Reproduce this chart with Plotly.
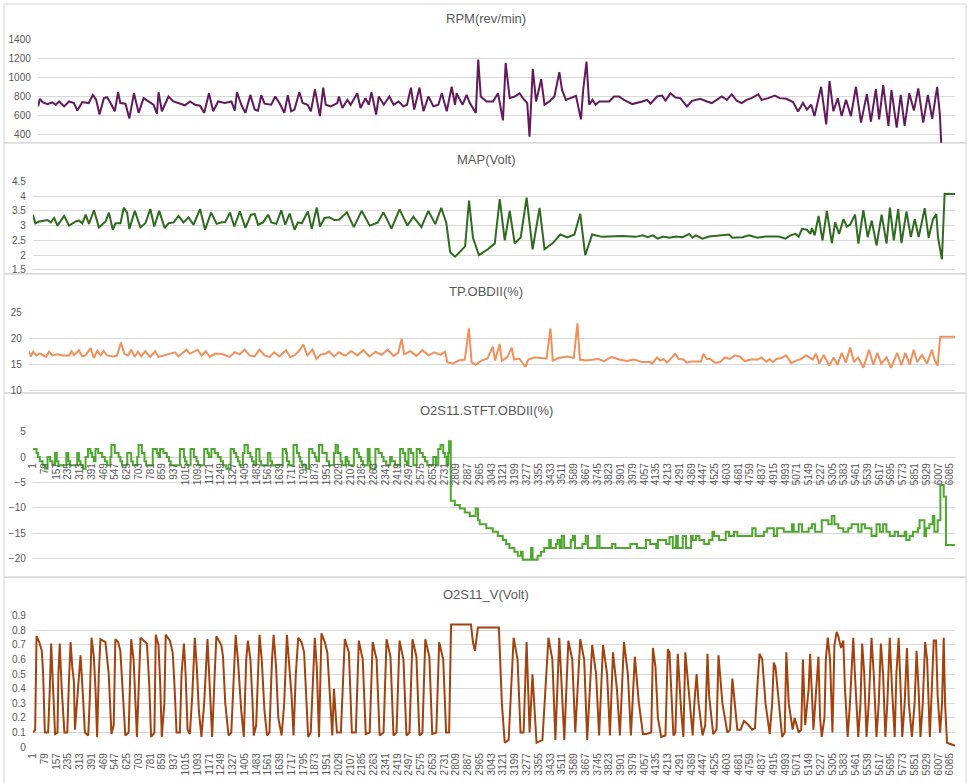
import plotly.graph_objects as go

# ---------------- data (category index, value) ----------------
N_CAT = 6118

rpm_idx = [3,14,32,65,98,120,143,176,209,242,264,297,340,368,390,412,441,463,492,514,536,551,585,611,642,673,706,739,772,795,806,828,872,905,938,982,1016,1049,1082,1111,1142,1170,1203,1248,1292,1314,1329,1358,1385,1418,1447,1469,1491,1513,1557,1584,1612,1645,1668,1690,1712,1745,1767,1800,1822,1849,1882,1904,1921,1954,1998,2009,2032,2065,2087,2131,2153,2186,2208,2226,2257,2275,2308,2345,2374,2407,2440,2463,2489,2511,2546,2573,2606,2639,2672,2695,2728,2761,2783,2794,2816,2834,2860,2882,2922,2938,2955,2993,3037,3070,3103,3121,3148,3181,3214,3236,3265,3280,3302,3324,3358,3380,3413,3446,3479,3497,3523,3557,3590,3623,3638,3660,3678,3700,3722,3744,3811,3844,3877,3910,3965,4032,4065,4087,4131,4165,4187,4220,4253,4286,4330,4364,4419,4463,4496,4562,4596,4629,4662,4695,4728,4761,4806,4828,4872,4916,4949,4993,5038,5071,5104,5130,5159,5181,5225,5259,5281,5307,5336,5362,5391,5424,5457,5491,5530,5557,5590,5612,5639,5674,5694,5729,5756,5782,5813,5844,5873,5906,5937,5966,5999,6017,6035,6118]
rpm_val = [693,773,738,717,735,710,745,693,745,728,648,738,728,814,762,607,780,790,710,641,842,728,721,566,831,624,780,745,710,617,842,641,797,745,728,704,745,710,700,624,831,641,745,728,745,648,842,710,624,814,659,648,811,721,710,797,728,624,811,641,659,842,728,710,641,873,590,890,710,693,728,797,676,762,710,831,676,780,710,842,607,797,710,797,710,745,693,710,890,659,890,641,797,693,710,831,641,900,710,831,762,710,814,728,624,1187,797,745,745,831,545,1152,780,797,831,780,728,372,1090,745,980,710,745,797,1055,866,762,780,804,555,866,1166,710,762,710,745,745,797,797,762,717,745,762,721,797,807,752,831,786,780,693,752,773,745,728,797,762,821,752,728,762,780,821,762,780,807,780,773,738,638,728,659,710,590,900,503,959,641,780,590,762,590,900,521,821,531,876,555,917,486,866,469,814,486,831,648,883,521,814,562,900,607,0,0]

map_idx = [1,17,43,76,98,120,142,164,208,241,285,307,329,351,373,406,439,483,505,531,549,582,604,626,641,677,714,747,780,806,839,875,901,934,967,1000,1033,1066,1110,1143,1183,1220,1253,1275,1308,1337,1374,1411,1447,1473,1495,1528,1561,1583,1616,1649,1675,1704,1737,1759,1785,1825,1851,1884,1906,1935,1968,2001,2031,2084,2130,2182,2235,2288,2327,2380,2433,2485,2525,2578,2624,2670,2710,2743,2769,2802,2841,2868,2894,2920,2960,3019,3065,3098,3131,3164,3197,3237,3276,3316,3362,3395,3448,3500,3547,3593,3632,3665,3711,3777,3909,4000,4047,4080,4113,4146,4179,4223,4267,4311,4355,4377,4399,4443,4487,4553,4619,4641,4707,4751,4806,4861,4949,4993,5026,5059,5081,5103,5136,5158,5169,5187,5213,5239,5268,5301,5323,5349,5378,5400,5422,5455,5477,5510,5539,5565,5598,5631,5664,5686,5712,5741,5763,5796,5825,5851,5877,5917,5943,5972,5994,6005,6031,6049,6118]
map_val = [3.37,3.08,3.14,3.17,3.19,3.11,3.26,3.0,3.33,3.0,3.14,3.17,3.08,3.37,3.06,3.52,2.94,3.14,3.44,2.86,3.08,3.08,3.61,3.44,2.89,3.5,2.94,3.08,3.56,2.97,3.5,2.92,3.08,3.11,3.33,3.11,3.28,3.03,3.56,2.86,3.44,3.06,3.11,3.11,3.44,2.97,3.48,2.92,3.37,3.39,3.03,3.11,3.37,3.11,3.06,3.52,3.03,3.41,2.86,3.11,3.08,3.48,2.89,3.61,2.97,3.26,3.28,3.19,3.2,3.45,2.95,3.5,3.0,3.1,3.45,2.9,3.55,3.0,3.3,2.95,3.5,3.05,3.6,3.1,2.1,1.95,2.15,2.3,3.85,2.6,2.0,2.2,2.4,3.9,2.5,3.5,2.4,2.6,3.95,2.2,3.6,2.2,2.4,2.7,2.6,2.7,3.4,2.0,2.7,2.62,2.65,2.62,2.67,2.61,2.67,2.56,2.63,2.59,2.63,2.61,2.72,2.59,2.67,2.56,2.63,2.67,2.7,2.59,2.61,2.67,2.59,2.63,2.63,2.56,2.67,2.72,2.63,2.89,2.86,2.72,2.92,2.67,3.33,2.5,3.5,2.41,3.11,2.72,3.22,2.97,3.03,3.37,2.39,3.52,2.61,3.17,2.33,3.37,2.39,3.61,2.5,3.56,2.41,3.48,2.61,3.22,2.61,3.59,2.59,3.22,3.39,2.61,1.86,4.08,4.07]

tp_idx = [1,14,29,51,73,95,113,134,156,189,222,266,283,299,331,353,375,408,430,452,474,495,517,561,583,609,631,655,677,699,721,743,769,802,835,856,889,922,966,988,1010,1042,1064,1086,1115,1141,1169,1196,1228,1272,1305,1327,1360,1393,1425,1458,1491,1524,1557,1590,1622,1655,1699,1727,1754,1786,1813,1841,1874,1900,1929,1961,1983,2016,2050,2090,2130,2170,2210,2250,2290,2330,2370,2410,2440,2463,2480,2520,2560,2600,2640,2680,2720,2750,2765,2800,2840,2880,2907,2925,2950,2990,3030,3065,3080,3110,3125,3160,3190,3205,3240,3280,3300,3340,3420,3446,3461,3500,3560,3600,3624,3640,3680,3700,3760,3800,3850,3900,3950,4000,4051,4106,4117,4149,4171,4193,4215,4248,4270,4292,4325,4346,4379,4440,4456,4478,4500,4532,4565,4598,4631,4664,4696,4729,4773,4817,4839,4872,4893,4915,4937,4970,5003,5036,5068,5101,5134,5156,5178,5200,5222,5250,5287,5316,5342,5370,5397,5425,5451,5478,5513,5550,5578,5605,5631,5666,5696,5736,5764,5790,5819,5845,5867,5900,5933,5966,5981,6003,6020,6118]
tp_val = [17.6,16.6,17.5,16.8,17.2,16.8,16.5,17.5,16.8,17.0,16.8,16.8,17.6,16.8,17.8,16.6,16.8,18.2,16.3,17.7,16.8,17.6,16.8,16.6,16.8,19.3,17.1,16.8,17.9,16.5,17.5,16.6,17.6,16.5,17.6,16.5,16.8,17.1,17.4,16.6,17.2,17.9,17.1,17.4,17.9,16.8,17.6,16.5,17.1,17.1,16.8,16.5,17.4,17.0,17.9,16.8,16.6,17.9,16.8,16.5,17.4,16.6,17.8,16.5,16.8,17.7,18.9,16.8,17.9,16.1,17.0,17.1,17.6,16.6,17.4,16.7,17.6,16.8,17.8,16.6,17.5,16.9,17.9,16.7,17.3,20.0,17.0,17.6,16.7,17.8,16.8,17.4,16.9,17.5,15.5,15.2,15.8,16.0,22.0,15.5,15.0,15.8,16.2,18.5,15.8,19.0,15.8,16.4,18.3,16.0,16.2,14.6,16.0,16.4,16.2,22.0,15.8,16.3,16.6,16.3,23.0,16.0,15.8,15.9,16.1,15.7,16.5,16.0,15.7,16.0,15.5,15.5,15.2,16.4,15.8,16.1,15.4,16.4,17.1,16.1,16.0,15.4,15.6,15.6,17.1,16.1,16.1,15.4,15.5,16.4,16.1,16.8,16.6,15.7,16.0,16.0,16.4,15.6,16.1,15.5,16.1,16.3,16.8,15.3,15.8,16.1,16.8,16.4,16.0,17.1,15.2,16.9,14.8,16.4,15.0,17.3,15.4,18.3,15.5,16.4,14.4,17.9,15.0,17.3,15.2,16.4,14.4,17.3,14.9,17.3,15.0,17.9,15.5,16.9,15.2,17.9,16.1,14.8,20.4,20.4]

stft_idx = [3,25,34,47,65,82,98,115,131,148,159,170,223,236,247,295,306,317,333,350,366,383,394,405,416,434,460,478,493,515,522,544,570,581,592,627,653,664,693,702,724,741,752,796,823,834,845,867,889,904,915,976,1003,1009,1020,1047,1069,1086,1097,1137,1159,1168,1185,1207,1229,1247,1262,1284,1313,1335,1350,1361,1372,1394,1405,1427,1444,1455,1466,1482,1504,1515,1559,1576,1587,1658,1680,1686,1701,1730,1752,1767,1774,1785,1811,1833,1855,1871,1882,1899,1921,1950,1965,1998,2009,2024,2042,2053,2075,2086,2097,2130,2152,2163,2178,2191,2222,2235,2240,2273,2294,2316,2327,2345,2371,2382,2404,2437,2455,2470,2481,2492,2508,2525,2547,2569,2587,2602,2617,2657,2675,2690,2705,2723,2734,2745,2756,2762,2773,2800,2833,2866,2899,2938,2954,2965,3009,3052,3085,3118,3140,3162,3195,3217,3239,3250,3294,3305,3316,3349,3371,3393,3426,3437,3470,3481,3496,3509,3525,3569,3584,3597,3646,3668,3683,3745,3760,3843,3865,3964,4008,4068,4096,4136,4147,4202,4224,4246,4268,4279,4312,4334,4367,4378,4400,4422,4454,4487,4509,4520,4553,4597,4619,4652,4674,4773,4795,4850,4872,4916,4938,4982,5037,5048,5081,5103,5147,5169,5190,5234,5278,5300,5318,5344,5377,5410,5432,5476,5498,5520,5564,5597,5619,5641,5663,5685,5718,5740,5784,5795,5817,5839,5872,5883,5915,5926,5948,5970,5981,6003,6021,6043,6058,6118]
stft_val = [1.6,0.8,0,-0.8,-1.6,-2.3,0,-0.8,-1.6,0.8,-0.8,-1.6,0.8,-0.8,-1.6,0.8,-0.8,-1.6,-2.3,0,1.6,0.8,0,-0.8,1.6,0.8,0,-0.8,-1.6,0,2.4,0.8,0,-0.8,-1.6,0.8,-0.8,-1.6,0,2.4,0.8,-0.8,-1.6,1.6,0.8,0,1.6,0.8,0,-0.8,-1.6,1.6,0,-0.8,-1.6,1.6,0,-0.8,-1.6,1.6,0.8,0,1.6,0.8,0,-0.8,-1.6,-2.3,1.6,0.8,0,-0.8,-1.6,0.8,2.4,0.8,0,-0.8,-1.6,1.6,-0.8,-1.6,0.8,-0.8,-1.6,1.6,0.8,-0.8,-1.6,2.4,0.8,0,-0.8,-1.6,-2.3,1.6,0.8,0,-0.8,2.4,0.8,-0.8,-1.6,0.8,2.4,0.8,-0.8,-1.6,0,-0.8,-1.6,1.6,0.8,0,-0.8,-1.6,1.6,-0.8,-2.3,1.6,0.8,0,-0.8,-1.6,0,-0.8,-1.6,1.6,0.8,-0.8,-1.6,1.6,0.8,-1.6,1.6,0.8,0,-0.8,-1.6,0,-1.6,1.6,2.4,0.8,0,-1.6,0.8,3.1,-8.6,-9.4,-10.1,-10.9,-11.6,-10.1,-12.4,-13.2,-14.0,-14.7,-15.5,-16.3,-17.1,-17.9,-18.6,-19.4,-18.6,-20.2,-20.2,-17.9,-20.2,-19.4,-18.6,-17.9,-16.3,-17.9,-17.1,-16.3,-17.9,-15.5,-17.9,-16.3,-15.5,-17.9,-17.1,-15.5,-17.9,-15.5,-17.9,-17.1,-17.9,-17.1,-17.9,-16.3,-17.1,-17.9,-16.3,-17.1,-15.7,-17.9,-15.5,-17.9,-15.5,-17.9,-15.5,-16.3,-15.5,-16.3,-17.1,-16.3,-14.7,-15.5,-16.3,-14.7,-15.5,-14.7,-15.5,-14.0,-15.5,-14.7,-14.0,-15.5,-14.0,-14.7,-13.2,-14.7,-13.2,-14.7,-14.0,-13.2,-14.7,-12.4,-13.2,-11.6,-13.2,-14.0,-14.7,-14.0,-13.2,-14.7,-13.2,-14.0,-15.5,-13.2,-14.7,-13.2,-14.7,-15.5,-14.7,-15.5,-14.7,-16.3,-15.5,-14.7,-14.0,-12.4,-15.5,-14.0,-13.2,-11.6,-14.7,-12.4,-5.5,-7.8,-17.3,-17.3]

o2_idx = [3,16,25,43,60,69,80,102,113,122,133,148,164,170,179,192,210,229,240,251,262,273,280,289,302,317,333,346,368,379,390,405,416,427,438,449,482,504,522,537,548,566,581,596,614,636,653,669,680,691,706,715,757,772,785,807,816,834,845,856,873,882,910,928,939,954,976,987,1003,1014,1027,1042,1058,1075,1088,1102,1119,1137,1159,1172,1190,1207,1218,1251,1262,1277,1299,1317,1332,1346,1361,1383,1400,1416,1427,1444,1458,1466,1482,1504,1519,1537,1554,1570,1587,1598,1614,1629,1651,1668,1686,1701,1717,1730,1745,1761,1783,1800,1811,1827,1844,1862,1871,1884,1899,1915,1937,1954,1972,1987,1998,2018,2044,2070,2097,2117,2143,2163,2189,2209,2235,2255,2281,2301,2327,2347,2373,2393,2413,2433,2459,2479,2499,2519,2545,2565,2585,2604,2631,2650,2677,2696,2723,2742,2762,2775,2907,2920,2933,2953,3092,3112,3131,3157,3190,3216,3236,3256,3276,3296,3315,3342,3381,3421,3447,3467,3493,3513,3526,3553,3579,3599,3632,3658,3678,3711,3737,3757,3783,3810,3829,3849,3875,3895,3922,3948,3968,3994,4021,4048,4070,4103,4114,4131,4147,4169,4197,4213,4224,4235,4250,4263,4279,4301,4316,4329,4356,4378,4389,4404,4417,4443,4461,4476,4487,4514,4536,4549,4575,4608,4626,4641,4674,4696,4718,4740,4773,4791,4806,4821,4839,4861,4889,4905,4916,4927,4971,4988,4999,5015,5041,5054,5081,5098,5109,5124,5147,5157,5179,5201,5212,5223,5234,5252,5261,5274,5289,5305,5318,5333,5344,5362,5377,5388,5406,5421,5443,5454,5476,5491,5502,5516,5531,5546,5564,5579,5597,5612,5626,5641,5656,5669,5685,5700,5718,5729,5744,5757,5768,5784,5799,5812,5832,5850,5863,5876,5889,5904,5920,5933,5951,5964,5977,5992,6003,6019,6032,6043,6052,6065,6118]
o2_val = [0.1,0.12,0.76,0.72,0.66,0.5,0.1,0.1,0.4,0.71,0.45,0.09,0.1,0.5,0.71,0.4,0.1,0.1,0.45,0.72,0.55,0.45,0.12,0.25,0.45,0.63,0.35,0.1,0.08,0.35,0.75,0.62,0.4,0.07,0.5,0.74,0.72,0.5,0.09,0.15,0.74,0.72,0.66,0.4,0.08,0.1,0.74,0.6,0.3,0.07,0.5,0.75,0.71,0.45,0.07,0.1,0.77,0.7,0.45,0.07,0.3,0.77,0.73,0.65,0.45,0.1,0.1,0.5,0.71,0.5,0.12,0.09,0.35,0.75,0.55,0.25,0.07,0.3,0.74,0.45,0.07,0.5,0.76,0.7,0.62,0.3,0.08,0.1,0.5,0.77,0.6,0.25,0.07,0.6,0.73,0.6,0.3,0.08,0.15,0.77,0.6,0.25,0.08,0.1,0.6,0.77,0.55,0.2,0.08,0.3,0.77,0.55,0.35,0.08,0.5,0.75,0.72,0.65,0.4,0.07,0.1,0.6,0.75,0.55,0.07,0.78,0.72,0.65,0.3,0.08,0.4,0.1,0.1,0.74,0.65,0.1,0.1,0.73,0.6,0.09,0.1,0.72,0.6,0.08,0.1,0.74,0.62,0.08,0.1,0.73,0.6,0.08,0.1,0.74,0.62,0.08,0.1,0.74,0.62,0.09,0.1,0.72,0.6,0.1,0.1,0.84,0.84,0.72,0.66,0.82,0.82,0.3,0.03,0.05,0.75,0.6,0.1,0.1,0.72,0.1,0.5,0.03,0.05,0.75,0.6,0.05,0.75,0.3,0.05,0.73,0.6,0.1,0.74,0.6,0.05,0.7,0.5,0.08,0.7,0.5,0.08,0.65,0.4,0.08,0.72,0.5,0.08,0.62,0.3,0.09,0.09,0.1,0.68,0.55,0.2,0.07,0.08,0.67,0.65,0.4,0.08,0.1,0.64,0.25,0.07,0.65,0.35,0.08,0.3,0.5,0.3,0.08,0.15,0.64,0.35,0.09,0.12,0.63,0.3,0.1,0.12,0.47,0.12,0.12,0.18,0.16,0.12,0.13,0.4,0.64,0.6,0.3,0.09,0.3,0.58,0.55,0.07,0.1,0.65,0.3,0.12,0.2,0.1,0.12,0.6,0.15,0.4,0.64,0.12,0.5,0.62,0.2,0.07,0.2,0.6,0.75,0.6,0.1,0.7,0.79,0.76,0.68,0.73,0.4,0.07,0.3,0.75,0.5,0.07,0.3,0.71,0.5,0.07,0.3,0.75,0.5,0.07,0.3,0.71,0.5,0.07,0.3,0.75,0.4,0.07,0.5,0.75,0.4,0.07,0.3,0.68,0.3,0.07,0.3,0.66,0.4,0.07,0.3,0.72,0.6,0.07,0.4,0.73,0.73,0.35,0.1,0.3,0.75,0.3,0.03,0.01,0.01]

titles = ["RPM(rev/min)", "MAP(Volt)", "TP.OBDII(%)", "O2S11.STFT.OBDII(%)", "O2S11_V(Volt)"]
colors = ["#611a5b", "#2e6b1f", "#f0905a", "#4ea72e", "#a2420f"]

# ---------------- layout geometry (pixels) ----------------
W, H = 969, 783
def fx(p):
    return p / W
def fy(p):
    return 1 - p / H

GRID = "#d9d9d9"
TXT = "#595959"
FONT = "Liberation Sans"
RIGHT = 955

panels = [
    dict(x=rpm_idx, y=rpm_val, left=32, top=34, bot=139, rng=[307, 1400], dtick=200, ty=13, box=(-2, 139), shape="linear"),
    dict(x=map_idx, y=map_val, left=27, top=178, bot=272, rng=[1.37, 4.5], dtick=0.5, ty=156, box=(139, 272), shape="linear"),
    dict(x=tp_idx, y=tp_val, left=23, top=311.7, bot=392, rng=[9.73, 25], dtick=5, ty=290, box=(272, 393), shape="linear"),
    dict(x=stft_idx, y=stft_val, left=27, top=432.3, bot=580, rng=[-23.6, 5], dtick=5, ty=411, box=(393, 580), shape="hv"),
    dict(x=o2_idx, y=o2_val, left=27, top=619.3, bot=752.7, rng=[0, 0.9], dtick=0.1, ty=598, box=(580, 800), shape="linear"),
]

fig = go.Figure()
layout = dict(
    width=W, height=H, margin=dict(l=0, r=0, t=0, b=0),
    paper_bgcolor="white", plot_bgcolor="rgba(0,0,0,0)",
    showlegend=False, font=dict(family=FONT, color=TXT),
    shapes=[], annotations=[],
)

for i, p in enumerate(panels, start=1):
    xa = "x" if i == 1 else f"x{i}"
    ya = "y" if i == 1 else f"y{i}"
    fig.add_trace(go.Scatter(
        x=p["x"], y=p["y"], mode="lines", xaxis=xa, yaxis=ya,
        line=dict(color=colors[i - 1], width=2, shape=p["shape"]),
        hoverinfo="skip",
    ))
    xkey = "xaxis" if i == 1 else f"xaxis{i}"
    ykey = "yaxis" if i == 1 else f"yaxis{i}"
    xax = dict(
        domain=[fx(p["left"]), fx(RIGHT)], range=[0.5, N_CAT + 0.5],
        anchor=ya, showgrid=False, zeroline=False, showline=False,
        showticklabels=False, fixedrange=True,
    )
    if i in (4, 5):
        xax.update(
            showticklabels=True, tickmode="linear", tick0=1, dtick=78,
            tickangle=-90, ticks="", ticklabelstandoff=3,
            tickfont=dict(family=FONT, size=10, color=TXT),
        )
    if i == 4:
        zero_px = p["top"] + (p["rng"][1] - 0) / (p["rng"][1] - p["rng"][0]) * (p["bot"] - p["top"])
        xax.update(anchor="free", position=fy(zero_px))
    layout[xkey] = xax
    layout[ykey] = dict(
        domain=[fy(p["bot"]), fy(p["top"])], range=p["rng"], anchor=xa,
        dtick=p["dtick"], tick0=0, showgrid=True, gridcolor=GRID, gridwidth=1,
        zeroline=False, showline=False, ticks="", ticklabelstandoff=6,
        tickfont=dict(family=FONT, size=10, color=TXT), fixedrange=True,
    )
    b0, b1 = p["box"]
    layout["shapes"].append(dict(
        type="rect", xref="paper", yref="paper", x0=fx(-2), x1=fx(966),
        y0=fy(b1), y1=fy(b0), line=dict(color="#d4d4d4", width=1),
        fillcolor="rgba(0,0,0,0)", layer="below",
    ))
    layout["annotations"].append(dict(
        text=titles[i - 1], xref="paper", yref="paper", x=fx(483), y=fy(p["ty"]),
        xanchor="center", yanchor="middle", showarrow=False,
        font=dict(family=FONT, size=13, color=TXT),
    ))

fig.update_layout(**layout)
fig.write_html("out.html")
